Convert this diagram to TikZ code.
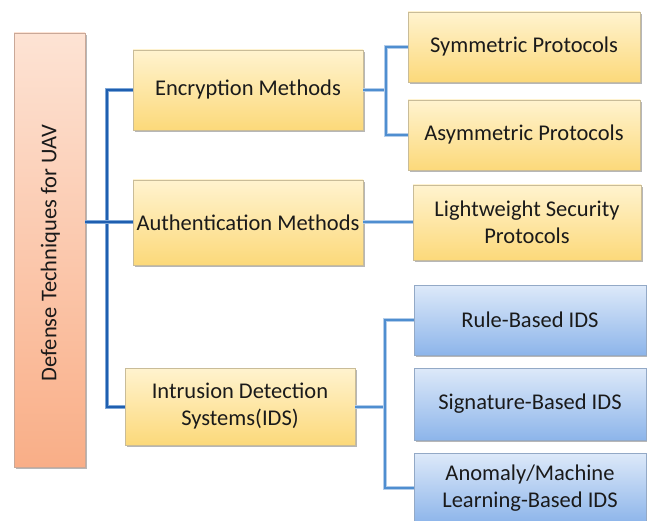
\documentclass[tikz,border=0pt]{standalone}
\usepackage{fontspec}
\setmainfont{Carlito}
\usetikzlibrary{shadows}

\definecolor{txt}{HTML}{1A1A1A}
\definecolor{ytop}{HTML}{FFF3CF}
\definecolor{ybot}{HTML}{FCD97A}
\definecolor{yedge}{HTML}{C9BC98}
\definecolor{btop}{HTML}{DDE9F9}
\definecolor{bbot}{HTML}{8DB5EA}
\definecolor{bedge}{HTML}{93A9C6}
\definecolor{rtop}{HTML}{FDE3D4}
\definecolor{rbot}{HTML}{F9AE87}
\definecolor{redge}{HTML}{C9A898}
\definecolor{trunk}{HTML}{1F5FB0}
\definecolor{trunkedge}{HTML}{7FA8D8}
\definecolor{branch}{HTML}{4F8ED0}
\definecolor{branchedge}{HTML}{B3CDEA}

\tikzset{
  box/.style={rectangle, align=center, text=txt, inner sep=2pt,
    font=\fontsize{22.5}{27}\selectfont, line width=0.6pt,
    drop shadow={shadow xshift=1.6pt, shadow yshift=-2pt, opacity=0.4, fill=black!70}},
  ybox/.style={box, draw=yedge, top color=ytop, bottom color=ybot},
  bbox/.style={box, draw=bedge, top color=btop, bottom color=bbot},
  rootbox/.style={box, draw=redge, top color=rtop, bottom color=rbot},
  mainline/.style={draw=trunkedge, line width=4pt,
    postaction={draw=trunk, line width=2pt}},
  subline/.style={draw=branchedge, line width=4pt,
    postaction={draw=branch, line width=2pt}},
}

\begin{document}
\begin{tikzpicture}[x=1pt, y=-1pt]
\useasboundingbox[fill=white] (0,0) rectangle (647,521);

% connector bends
\coordinate (tr) at (107,0);
\coordinate (b1) at (386,0);
\coordinate (b2) at (385,0);

% root
\node[rootbox, minimum width=71pt, minimum height=434pt] (root) at (49.5,250) {};
\node[rotate=90, text=txt, font=\fontsize{22.5}{27}\selectfont] (rootlbl) at ([xshift=1pt,yshift=-3pt]root.center) {Defense Techniques for UAV};

% second level
\node[ybox, minimum width=230pt, minimum height=80pt] (enc)  at (248,90)    {Encryption Methods};
\node[ybox, minimum width=230pt, minimum height=85pt] (auth) at (248,222.5) {Authentication Methods};
\node[ybox, minimum width=230pt, minimum height=77pt] (ids)  at (240,406.5) {Intrusion Detection\\Systems(IDS)};

% third level
\node[ybox, minimum width=232pt, minimum height=70pt] (sym)   at (524,47)    {Symmetric Protocols};
\node[ybox, minimum width=232pt, minimum height=70pt] (asym)  at (524,135)   {Asymmetric Protocols};
\node[ybox, minimum width=228pt, minimum height=75pt] (light) at (527,222.5) {Lightweight Security\\Protocols};
\node[bbox, minimum width=232pt, minimum height=70pt] (rule)  at (530,320)   {Rule-Based IDS};
\node[bbox, minimum width=232pt, minimum height=72pt] (sig)   at (530,404)   {Signature-Based IDS};
\node[bbox, minimum width=232pt, minimum height=70pt] (anom)  at (530,488)   {Anomaly/Machine\\Learning-Based IDS};

% main tree
\draw[mainline] (enc.west) -| (tr |- ids.west) -- (ids.west);
\draw[mainline] (root.east |- auth.west) -- (auth.west);

% branches
\draw[subline] (enc.east) -- (b1 |- enc.east);
\draw[subline] (sym.west) -| (b1 |- asym.west) -- (asym.west);
\draw[subline] (auth.east) -- (light.west);
\draw[subline] (ids.east) -- (b2 |- ids.east);
\draw[subline] (rule.west) -| (b2 |- anom.west) -- (anom.west);
\end{tikzpicture}
\end{document}
